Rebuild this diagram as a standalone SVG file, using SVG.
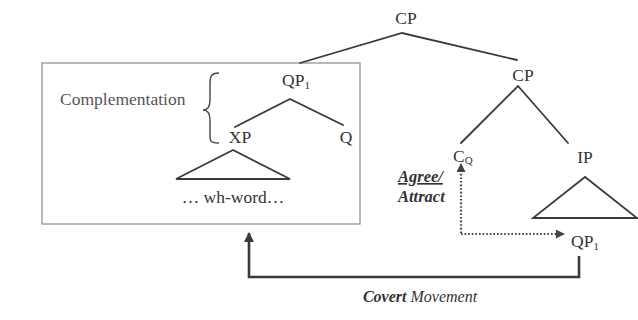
<svg xmlns="http://www.w3.org/2000/svg" width="638" height="320" viewBox="0 0 638 320">
  <style>
    .lbl { font-family: "Liberation Serif", "Times New Roman", serif; font-size: 17.5px; fill: #333; }
    .sub { font-size: 11px; }
    .edge { stroke: #3a3a3a; stroke-width: 1.8; fill: none; stroke-linecap: round; }
    .box { stroke: #8a8a8a; stroke-width: 1.2; fill: none; }
    .dot { stroke: #444; stroke-width: 2.2; fill: none; stroke-dasharray: 1.6 2; }
    .move { stroke: #3a3a3a; stroke-width: 2.6; fill: none; }
    .ital { font-family: "Liberation Serif", "Times New Roman", serif; font-style: italic; fill: #333; }
  </style>
  <defs>
    <marker id="tri" viewBox="0 0 10 10" refX="9" refY="5" markerWidth="10" markerHeight="9" orient="auto" markerUnits="userSpaceOnUse">
      <path d="M0,0 L10,5 L0,10 z" fill="#444"/>
    </marker>
    <marker id="triBig" viewBox="0 0 10 10" refX="9" refY="5" markerWidth="11" markerHeight="10" orient="auto" markerUnits="userSpaceOnUse">
      <path d="M0,0 L10,5 L0,10 z" fill="#3a3a3a"/>
    </marker>
  </defs>
  <rect width="638" height="320" fill="#ffffff"/>

  <!-- complementation box -->
  <rect class="box" x="42" y="63" width="318" height="161"/>

  <g id="edges">
    <!-- root CP branches -->
    <path class="edge" d="M300,63 L402,33 L517,60"/>
    <!-- lower CP branches -->
    <path class="edge" d="M461,143 L518,86 L568,143"/>
    <!-- IP triangle -->
    <path class="edge" d="M585,177 L533,218 L637,218 Z"/>
    <!-- QP1 branches inside box -->
    <path class="edge" d="M235,127 L290,99 L343,125"/>
    <!-- XP triangle -->
    <path class="edge" d="M233,150 L176,179 L290,179 Z"/>
    <!-- Agree/Attract dotted path -->
    <path class="dot" d="M461,233 L461,164" marker-end="url(#tri)"/>
    <path class="dot" d="M461,234 L564,234" marker-end="url(#tri)"/>
    <!-- covert movement -->
    <path class="move" d="M579,256 L579,277 L249,277 L249,233" marker-end="url(#triBig)"/>
  </g>

  <g id="cp-root"><text class="lbl" x="406" y="24" text-anchor="middle">CP</text></g>
  <g id="cp"><text class="lbl" x="523" y="81" text-anchor="middle">CP</text></g>
  <g id="cq"><text class="lbl" x="453" y="162">C<tspan class="sub" dy="2">Q</tspan></text></g>
  <g id="ip"><text class="lbl" x="585" y="163" text-anchor="middle">IP</text></g>
  <g id="qp1-low"><text class="lbl" x="571" y="247">QP<tspan class="sub" dy="3">1</tspan></text></g>

  <g id="qp1-top"><text class="lbl" x="282" y="86">QP<tspan class="sub" dy="3">1</tspan></text></g>
  <g id="xp"><text class="lbl" x="240" y="143" text-anchor="middle">XP</text></g>
  <g id="q"><text class="lbl" x="346" y="143" text-anchor="middle">Q</text></g>
  <g id="wh"><text class="lbl" x="233" y="203" text-anchor="middle">… wh-word…</text></g>

  <g id="complementation">
    <text class="lbl" x="60" y="105" style="fill:#555">Complementation</text>
    <path d="M219,73 C210,73 210,78 210,85 L210,100 C210,107 207,110 203,110 C207,110 210,113 210,120 L210,135 C210,141 210,143 219,143" fill="none" stroke="#444" stroke-width="1.4"/>
  </g>

  <g id="agree">
    <text class="ital" x="398" y="182" font-size="16.5" font-weight="bold" text-decoration="underline">Agree/</text>
    <text class="ital" x="398" y="202" font-size="16.5" font-weight="bold">Attract</text>
  </g>

  <g id="covert">
    <text class="ital" x="420" y="302" font-size="16" text-anchor="middle"><tspan font-weight="bold">Covert</tspan> Movement</text>
  </g>
</svg>
